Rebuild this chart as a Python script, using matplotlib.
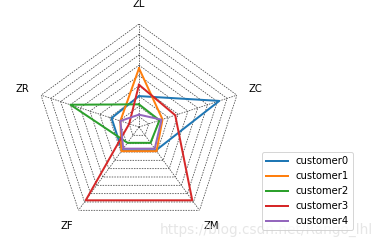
import numpy as np
import matplotlib
matplotlib.use('Agg')
import matplotlib.pyplot as plt

# radar chart data, axes in clockwise order starting from the top
labels = ['ZL', 'ZC', 'ZM', 'ZF', 'ZR']
customers = ['customer0', 'customer1', 'customer2', 'customer3', 'customer4']
customer0 = [3.0, 8.2, 2.8, 2.8, 2.8]
customer1 = [5.7, 2.4, 2.9, 2.9, 1.9]
customer2 = [2.2, 2.1, 1.9, 1.9, 7.0]
customer3 = [4.1, 3.7, 8.8, 8.8, 1.0]
customer4 = [1.2, 2.3, 2.6, 2.6, 1.9]
levels = [1, 2, 3, 4, 5, 6, 7, 8, 9, 10]

series = [customer0, customer1, customer2, customer3, customer4]
colors = ['#1f77b4', '#ff7f0e', '#2ca02c', '#d62728', '#9467bd']

fig = plt.figure(figsize=(385 / 72, 250 / 72), dpi=72)
ax = fig.add_axes([0.0935, 0.08, 0.535, 0.824], projection='polar')
ax.set_theta_offset(np.pi / 2)
ax.set_theta_direction(-1)

angles = np.linspace(0, 2 * np.pi, len(labels), endpoint=False)
closed = np.concatenate([angles, angles[:1]])

# pentagon grid
grid_style = dict(color='0.25', lw=0.75, linestyle=(0, (2, 1.5)))
for lv in levels:
    ax.plot(closed, [lv] * len(closed), **grid_style)
for a in angles:
    ax.plot([a, a], [0, levels[-1]], **grid_style)

for name, vals, c in zip(customers, series, colors):
    ax.plot(closed, vals + vals[:1], color=c, lw=2, label=name)

for a, lab in zip(angles, labels):
    ax.text(a, 11.9, lab, ha='center', va='center', fontsize=10)

ax.set_ylim(0, 10)
ax.set_xticks([])
ax.set_yticks([])
ax.grid(False)
ax.spines['polar'].set_visible(False)

fig.legend(loc='lower left', bbox_to_anchor=(0.68, 0.08), borderaxespad=0,
           fontsize=10, handlelength=2.2)

fig.text(0.415, 0.08, 'https://blog.csdn.net/Rango_lhl', fontsize=13.6,
         color='0.88', alpha=0.8, va='center')

fig.savefig('out.png', dpi=72)
